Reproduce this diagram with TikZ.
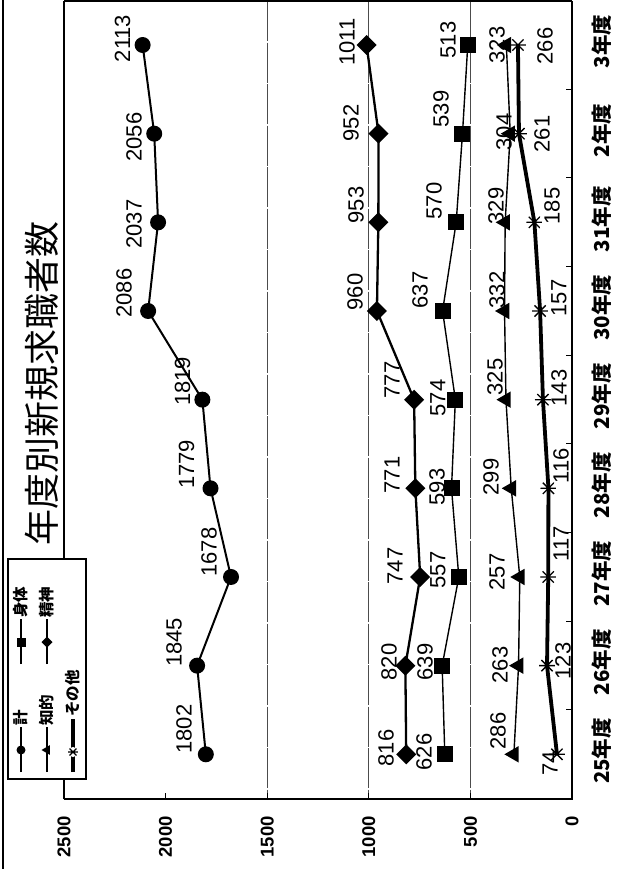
\documentclass[tikz,border=0pt]{standalone}
\usepackage{fontspec}
\setmainfont{Liberation Sans}
\newfontfamily\jp{Noto Sans CJK JP}
\usetikzlibrary{shapes.geometric,backgrounds}
\begin{document}
\begin{tikzpicture}[x=1pt,y=-1pt,
  mk/.style={inner sep=0pt, outer sep=0pt, fill=black},
  mcirc/.style={mk, circle, minimum size=16pt},
  msq/.style={mk, rectangle, minimum size=16pt},
  mdia/.style={mk, diamond, minimum width=20pt, minimum height=20pt},
  mtri/.style={mk, regular polygon, regular polygon sides=3, minimum size=19pt, rotate=90},
  mast/.style={circle, inner sep=0pt, outer sep=0pt, minimum size=16pt,
    path picture={\draw[line width=1.3pt]
      (path picture bounding box.west) -- (path picture bounding box.east)
      (path picture bounding box.south west) -- (path picture bounding box.north east)
      (path picture bounding box.north west) -- (path picture bounding box.south east);}},
  lbl/.style={rotate=90, inner sep=0pt, font=\fontsize{22}{22}\selectfont},
  vlbl/.style={rotate=90, anchor=east, inner sep=0pt, font=\bfseries\fontsize{18.5}{18.5}\selectfont},
  ylbl/.style={rotate=90, inner sep=0pt, font=\jp\bfseries\fontsize{20.5}{20.5}\selectfont},
  leglbl/.style={rotate=90, anchor=west, inner sep=0pt, font=\jp\bfseries\fontsize{15.5}{15.5}\selectfont},
  grid/.style={line width=0.8pt, black!70, dash pattern=on 40pt off 1.5pt},
  lk/.style={line width=2pt},
  ls/.style={line width=1.4pt},
  lt/.style={line width=1.4pt},
  ld/.style={line width=2.3pt},
  lo/.style={line width=3.8pt},
]
\useasboundingbox (0,0) rectangle (619,869);
% frame coordinates
\coordinate (pTL) at (64,1.2);
\coordinate (pTR) at (572,1.2);
\coordinate (pBL) at (64,799);
\coordinate (pBR) at (572,799);
\coordinate (oT) at (3,0);
\coordinate (oB) at (3,869);
\draw[line width=1.5pt] (oT) -- (oB);
% gridlines
\begin{pgfonlayer}{background}
\foreach \v in {500,1000,1500}{
  \coordinate (gt\v) at ({572-0.2032*\v},1.2);
  \coordinate (gb\v) at ({572-0.2032*\v},799);
  \draw[grid] (gt\v) -- (gb\v);
}
\end{pgfonlayer}
\draw[line width=1.2pt] (pBL) -- (pTL);
\draw[line width=2.2pt] (pTL) -- (pTR);
\draw[line width=2.3pt] (pTR) -- (pBR) -- (pBL);
% ticks
\foreach \k in {0,...,9}
  \draw[line width=1pt] (572,{798.6-88.66*\k}) -- (566,{798.6-88.66*\k});
\foreach \v in {0,500,...,2500}{
  \draw[line width=1pt] ({572-0.2032*\v},799) -- ({572-0.2032*\v},793);
  \node[vlbl] (v\v) at ({572-0.2032*\v},816) {\v};
}
% year labels
\foreach \t [count=\i from 0] in {25年度,26年度,27年度,28年度,29年度,30年度,31年度,2年度,3年度}
  \node[ylbl] (yr\i) at (602,{751-88.66*\i}) {\t};
% title
\node[rotate=90, inner sep=0pt, font=\jp\fontsize{36}{36}\selectfont] (title) at (42,383) {年度別新規求職者数};
% markers
\foreach \v [count=\i from 0] in {1802,1845,1678,1779,1819,2086,2037,2056,2113}
  \node[mcirc] (k\i) at ({572-0.2032*\v},{754.3-88.66*\i}) {};
\foreach \v [count=\i from 0] in {626,639,557,593,574,637,570,539,513}
  \node[msq] (s\i) at ({572-0.2032*\v},{754.3-88.66*\i}) {};
\foreach \v [count=\i from 0] in {286,263,257,299,325,332,329,304,323}
  \node[mtri] (t\i) at ({572-0.2032*\v},{754.3-88.66*\i}) {};
\foreach \v [count=\i from 0] in {816,820,747,771,777,960,953,952,1011}
  \node[mdia] (d\i) at ({572-0.2032*\v},{754.3-88.66*\i}) {};
\foreach \v [count=\i from 0] in {74,123,117,116,143,157,185,261,266}
  \node[mast] (o\i) at ({572-0.2032*\v},{754.3-88.66*\i}) {};
% series lines
\begin{pgfonlayer}{background}
\draw[lk] (k0.center) \foreach \i in {1,...,8}{ -- (k\i.center)};
\draw[ls] (s0.center) \foreach \i in {1,...,8}{ -- (s\i.center)};
\draw[lt] (t0.center) \foreach \i in {1,...,8}{ -- (t\i.center)};
\draw[ld] (d0.center) \foreach \i in {1,...,8}{ -- (d\i.center)};
\draw[lo] (o0.center) \foreach \i in {1,...,8}{ -- (o\i.center)};
\end{pgfonlayer}
% data labels
\foreach \x/\y/\t [count=\i] in {184/729/1802,174/642.5/1845,209/552/1678,186.5/464.5/1779,182.5/381.5/1819,124/293/2086,134/224/2037,134/137/2056,122.5/38.5/2113}
  \node[lbl] (lk\i) at (\x,\y) {\t};
\foreach \x/\y/\t [count=\i] in {386/748/816,389/662/820,395/566/747,392/475/771,392/380/777,355/292/960,356/205/953,351/123/952,347/42/1011}
  \node[lbl] (ld\i) at (\x,\y) {\t};
\foreach \x/\y/\t [count=\i] in {424/752/626,425/662/639,438/570/557,437/487/593,438/398/574,420/290/637,434/201/570,441/109/539,448/40/513}
  \node[lbl] (ls\i) at (\x,\y) {\t};
\foreach \x/\y/\t [count=\i] in {498/731/286,500/665/263,497/572/257,491/477/299,495/377/325,497/290/332,496/206/329,504/132/304,497/45/323}
  \node[lbl] (lt\i) at (\x,\y) {\t};
\foreach \x/\y/\t [count=\i] in {550/763/74,563/661/123,561/544/117,561/466/116,559/388/143,559/298/157,552/206/185,542/134/261,545/46/266}
  \node[lbl] (lo\i) at (\x,\y) {\t};
% legend
\node[draw, line width=1.3pt, fill=white, minimum width=78pt, minimum height=220pt, inner sep=0pt] (leg) at (47,669) {};
\coordinate (a1) at (21,772); \coordinate (a2) at (21,727);
\coordinate (b1) at (21,664); \coordinate (b2) at (21,619);
\coordinate (c1) at (47,772); \coordinate (c2) at (47,727);
\coordinate (e1) at (47,664); \coordinate (e2) at (47,619);
\coordinate (f1) at (73,772); \coordinate (f2) at (73,719);
\draw[line width=1.5pt] (a1) -- (a2);
\draw[line width=1.5pt] (b1) -- (b2);
\draw[line width=1.5pt] (c1) -- (c2);
\draw[line width=1.5pt] (e1) -- (e2);
\draw[line width=3.5pt] (f1) -- (f2);
\node[mcirc, minimum size=9pt] (la) at (21,750) {};
\node[msq, minimum size=9pt] (lb) at (21,642) {};
\node[mtri, minimum size=11pt] (lc) at (47,750) {};
\node[mdia, minimum width=11pt, minimum height=11pt] (le) at (47,642) {};
\node[mast, minimum size=10pt, fill=white] (lf) at (73,752) {};
\node[leglbl] (ta) at (21,726) {計};
\node[leglbl] (tb) at (21,618) {身体};
\node[leglbl] (tc) at (47,726) {知的};
\node[leglbl] (te) at (47,618) {精神};
\node[leglbl] (tf) at (73,717) {その他};
\end{tikzpicture}
\end{document}
